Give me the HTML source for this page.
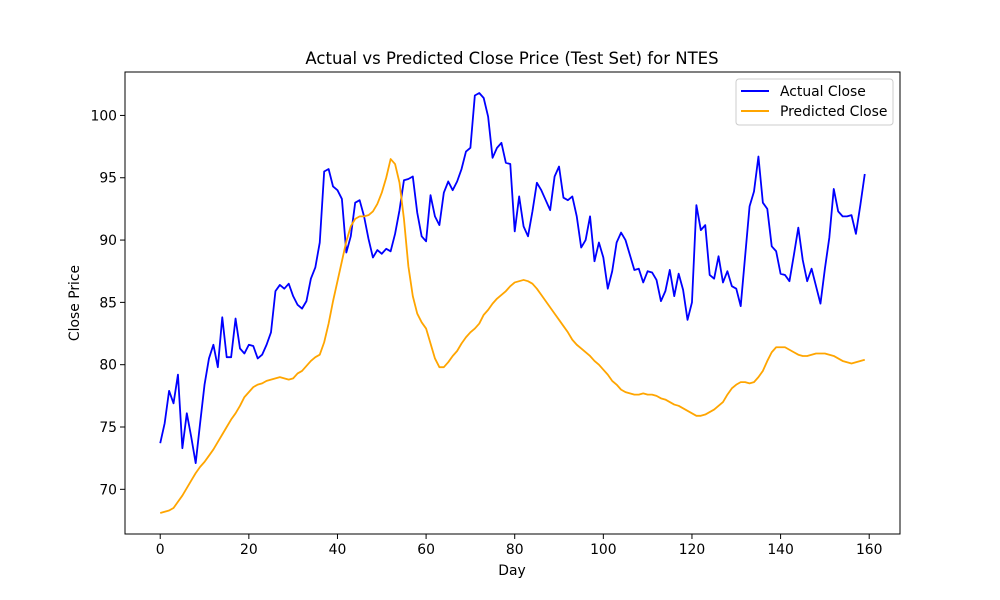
<!DOCTYPE html>
<html><head><meta charset="utf-8"><style>
html,body{margin:0;padding:0;background:#fff;}
svg{display:block;font-family:"DejaVu Sans","Liberation Sans",sans-serif;}
</style></head><body>
<svg id="chart" width="1000" height="600" viewBox="0 0 1000 600">
<rect x="0" y="0" width="1000" height="600" fill="#fff"/>
<text x="512" y="64" text-anchor="middle" font-size="16.5" fill="#000">Actual vs Predicted Close Price (Test Set) for NTES</text>
<g id="xticks"></g>
<g id="yticks"></g>
<g id="series"></g>
<rect x="125" y="72" width="775" height="462" fill="none" stroke="#000" stroke-width="1"/>
<text x="512" y="575" text-anchor="middle" font-size="13.9">Day</text>
<text x="0" y="0" transform="translate(79,303) rotate(-90)" text-anchor="middle" font-size="13.9">Close Price</text>
<g>
<rect x="736" y="79" width="157" height="46" rx="3" fill="#fff" stroke="#ccc"/>
<line x1="741" y1="91" x2="769" y2="91" stroke="#0000ff" stroke-width="2"/>
<text x="780" y="96" font-size="13.9">Actual Close</text>
<line x1="741" y1="111" x2="769" y2="111" stroke="#ffa500" stroke-width="2"/>
<text x="780" y="116" font-size="13.9">Predicted Close</text>
</g>
</svg>
<script>
const actual = [73.7,75.3,77.9,76.9,79.2,73.3,76.1,74.2,72.1,75.3,78.4,80.5,81.6,79.8,83.8,80.6,80.6,83.7,81.3,80.9,81.6,81.5,80.5,80.8,81.6,82.6,85.9,86.4,86.1,86.5,85.5,84.8,84.5,85.1,86.9,87.8,89.8,95.5,95.7,94.3,94.0,93.3,89.0,90.3,93.0,93.2,91.9,90.1,88.6,89.2,88.9,89.3,89.1,90.5,92.4,94.8,94.9,95.1,92.2,90.3,89.9,93.6,91.9,91.2,93.8,94.7,94.0,94.7,95.7,97.1,97.4,101.6,101.8,101.4,99.9,96.6,97.4,97.8,96.2,96.1,90.7,93.5,91.1,90.3,92.3,94.6,94.0,93.2,92.4,95.1,95.9,93.4,93.2,93.5,91.9,89.4,90.0,91.9,88.3,89.8,88.6,86.1,87.5,89.8,90.6,90.0,88.8,87.6,87.7,86.6,87.5,87.4,86.8,85.1,85.9,87.6,85.5,87.3,86.0,83.6,85.0,92.8,90.8,91.2,87.2,86.9,88.7,86.6,87.5,86.3,86.1,84.7,88.7,92.7,93.9,96.7,93.0,92.5,89.5,89.1,87.3,87.2,86.7,88.8,91.0,88.4,86.7,87.7,86.3,84.9,87.7,90.2,94.1,92.3,91.9,91.9,92.0,90.5,92.8,95.3];
const predicted = [68.1,68.2,68.3,68.5,69.0,69.5,70.1,70.7,71.3,71.8,72.2,72.7,73.2,73.8,74.4,75.0,75.6,76.1,76.7,77.4,77.8,78.2,78.4,78.5,78.7,78.8,78.9,79.0,78.9,78.8,78.9,79.3,79.5,79.9,80.3,80.6,80.8,81.8,83.3,85.1,86.7,88.3,89.9,91.1,91.7,91.9,91.9,92.0,92.3,92.9,93.8,95.0,96.5,96.1,94.6,91.7,87.9,85.5,84.1,83.4,82.9,81.7,80.5,79.8,79.8,80.2,80.7,81.1,81.7,82.2,82.6,82.9,83.3,84.0,84.4,84.9,85.3,85.6,85.9,86.3,86.6,86.7,86.8,86.7,86.5,86.1,85.6,85.1,84.6,84.1,83.6,83.1,82.6,82.0,81.6,81.3,81.0,80.7,80.3,80.0,79.6,79.2,78.7,78.4,78.0,77.8,77.7,77.6,77.6,77.7,77.6,77.6,77.5,77.3,77.2,77.0,76.8,76.7,76.5,76.3,76.1,75.9,75.9,76.0,76.2,76.4,76.7,77.0,77.6,78.1,78.4,78.6,78.6,78.5,78.6,79.0,79.5,80.3,81.0,81.4,81.4,81.4,81.2,81.0,80.8,80.7,80.7,80.8,80.9,80.9,80.9,80.8,80.7,80.5,80.3,80.2,80.1,80.2,80.3,80.4];
const xTickLabels = [0,20,40,60,80,100,120,140,160];
const yTickLabels = [70,75,80,85,90,95,100];

const NS = 'http://www.w3.org/2000/svg';
const L = 125, R = 900, T = 72, B = 534;
const n = actual.length;
const xMin = -(n-1)*0.05, xMax = (n-1)*1.05;
const all = actual.concat(predicted);
const dMin = Math.min(...all), dMax = Math.max(...all);
const yMin = dMin - (dMax-dMin)*0.05, yMax = dMax + (dMax-dMin)*0.05;
function xs(v){ return L + (v - xMin)/(xMax - xMin)*(R - L); }
function ys(v){ return B - (v - yMin)/(yMax - yMin)*(B - T); }
function mk(tag, attrs, parent){ const e = document.createElementNS(NS, tag); for (const k in attrs) e.setAttribute(k, attrs[k]); parent.appendChild(e); return e; }

const gx = document.getElementById('xticks');
xTickLabels.forEach(v => {
  const x = xs(v);
  const t = mk('line', {x1:x, y1:B, x2:x, y2:B+5, stroke:'#000'}, gx);
  
  
  const lb = mk('text', {x:x, y:B+20, 'text-anchor':'middle', 'font-size':'13.9'}, gx);
  lb.textContent = v;
  
  
});
const gy = document.getElementById('yticks');
yTickLabels.forEach(v => {
  const y = ys(v);
  const t = mk('line', {x1:L-5, y1:y, x2:L, y2:y, stroke:'#000'}, gy);
  
  
  const lb = mk('text', {x:L-8, y:y+5, 'text-anchor':'end', 'font-size':'13.9'}, gy);
  lb.textContent = v;
  
  
});
const gs = document.getElementById('series');
function line(data, color, name){
  const pts = data.map((v,i) => xs(i).toFixed(2) + ',' + ys(v).toFixed(2)).join(' ');
  const p = mk('polyline', {points:pts, fill:'none', stroke:color, 'stroke-width':'1.8', 'stroke-linejoin':'round'}, gs);
  
  
}
line(actual, '#0000ff', 'actual-close-line');
line(predicted, '#ffa500', 'predicted-close-line');
</script>
</body></html>
